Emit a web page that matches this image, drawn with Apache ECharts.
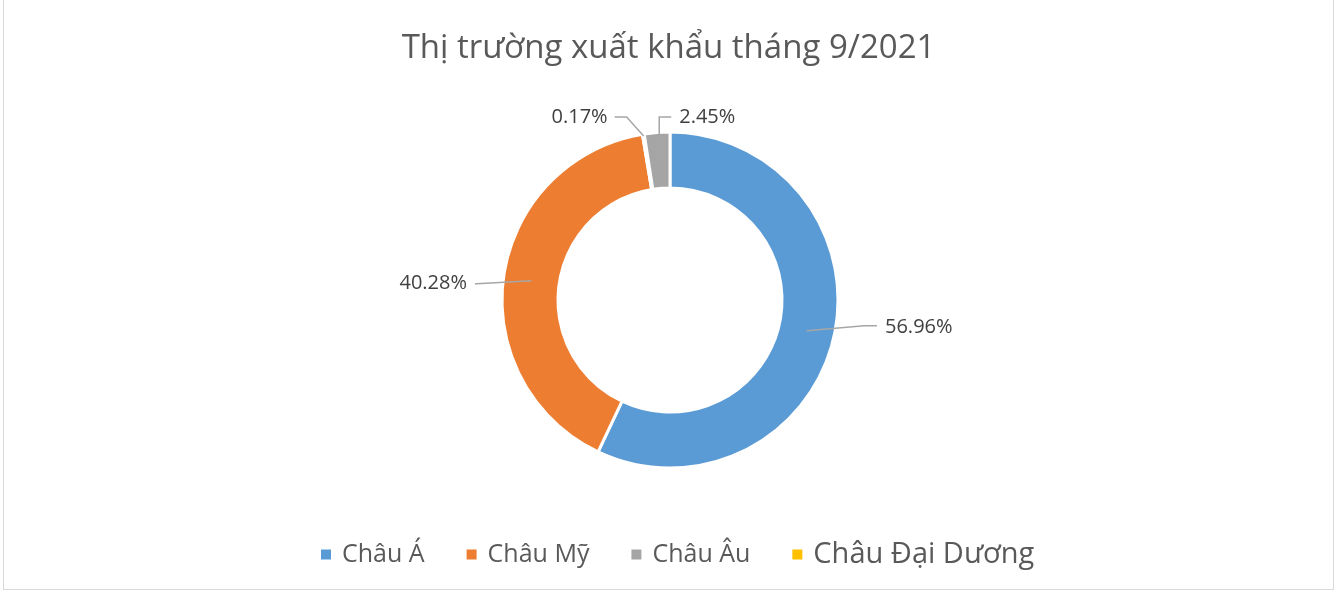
<!DOCTYPE html>
<html>
<head>
<meta charset="utf-8">
<script src="https://cdn.jsdelivr.net/npm/echarts@6/dist/echarts.min.js"></script>
<style>
  html, body { margin: 0; padding: 0; background: #fff; }
  #main { position: absolute; left: 3px; top: 0; width: 1329px; height: 589px; border: 1px solid #d9d9d9; border-top: none; }
</style>
</head>
<body>
<div id="main"></div>
<script>
var myChart = echarts.init(document.getElementById('main'));

// thứ tự vẽ trên vòng (theo chiều kim đồng hồ từ đỉnh)
var names = ['Châu Á', 'Châu Mỹ', 'Châu Đại Dương', 'Châu Âu'];
var values = [56.96, 40.28, 0.17, 2.45];
var colors = ['#5b9bd5', '#ed7d31', '#ffc000', '#a5a5a5'];
// thứ tự trong chú giải
var legendNames = ['Châu Á', 'Châu Mỹ', 'Châu Âu', 'Châu Đại Dương'];

var cx = 666, cy = 300, r0 = 112, r1 = 168;

var pieData = names.map(function (n, i) {
    return { name: n, value: values[i], itemStyle: { color: colors[i] } };
});

// đặt nhãn kiểu Excel: đường dẫn bắt đầu giữa vành
var labelLayout = function (p) {
    var pts = p.labelLinePoints;
    if (!pts) return;
    var dx = pts[0][0] - cx, dy = pts[0][1] - cy;
    var len = Math.sqrt(dx * dx + dy * dy);
    var ux = dx / len, uy = dy / len;
    var rm = (r0 + r1) / 2;
    var s = [cx + ux * rm, cy + uy * rm];
    var i = p.dataIndex;
    if (i === 0) {
        var e = [cx + 207, s[1] - 5];
        return { x: e[0] + 8, y: e[1] + 2, align: 'left', verticalAlign: 'middle',
            labelLinePoints: [s, [e[0] - 13, e[1]], e] };
    }
    if (i === 1) {
        var e1 = [cx - 195, s[1] + 3];
        return { x: e1[0] - 8, y: e1[1], align: 'right', verticalAlign: 'middle',
            labelLinePoints: [s, [e1[0] + 2, e1[1]], e1] };
    }
    if (i === 2) {
        var o = [cx + ux * (r1 - 2), cy + uy * (r1 - 2)];
        var e2 = [o[0] - 29, cy - r1 - 15];
        return { x: e2[0] - 7, y: e2[1], align: 'right', verticalAlign: 'middle',
            labelLinePoints: [o, [e2[0] + 12, e2[1]], e2] };
    }
    var top = cy - r1 - 15;
    return { x: s[0] + 20, y: top, align: 'left', verticalAlign: 'middle',
        labelLinePoints: [s, [s[0], top], [s[0] + 12, top]] };
};

option = {
    title: {
        text: 'Thị trường xuất khẩu tháng 9/2021',
        left: 'center',
        top: 27,
        textStyle: { fontFamily: 'Open Sans', fontSize: 33, fontWeight: 'normal', color: '#595959' }
    },
    legend: {
        bottom: 15,
        left: 310,
        itemWidth: 12,
        itemHeight: 12,
        itemGap: 40,
        icon: 'rect',
        data: legendNames.map(function (n) {
            return {
                name: n,
                textStyle: { fontSize: n === 'Châu Đại Dương' ? 29 : 25, padding: [0, 0, 0, 5] }
            };
        }),
        textStyle: { fontFamily: 'Open Sans', color: '#595959', fontSize: 25, padding: [0, 0, 0, 5] }
    },
    series: [{
        // vành bánh
        type: 'pie',
        center: [cx, cy],
        radius: [r0, r1],
        startAngle: 90,
        clockwise: true,
        itemStyle: { borderColor: '#fff', borderWidth: 3 },
        label: { show: false },
        labelLine: { show: false },
        emphasis: { scale: false },
        data: pieData
    }, {
        // lớp trong suốt phía trên chỉ để vẽ nhãn và đường dẫn đè lên vành
        type: 'pie',
        center: [cx, cy],
        radius: [r0, r1],
        startAngle: 90,
        clockwise: true,
        z: 3,
        silent: true,
        avoidLabelOverlap: false,
        itemStyle: { opacity: 0, borderWidth: 0 },
        label: {
            show: true,
            formatter: function (p) { return p.value.toFixed(2) + '%'; },
            fontFamily: 'Open Sans',
            fontSize: 20,
            color: '#404040',
            opacity: 1
        },
        labelLine: {
            show: true,
            length: 12,
            length2: 30,
            lineStyle: { color: '#a6a6a6', width: 1.5, opacity: 1 }
        },
        labelLayout: labelLayout,
        emphasis: { scale: false },
        data: names.map(function (n, i) { return { name: n, value: values[i] }; })
    }]
};

myChart.setOption(option);
</script>
</body>
</html>
